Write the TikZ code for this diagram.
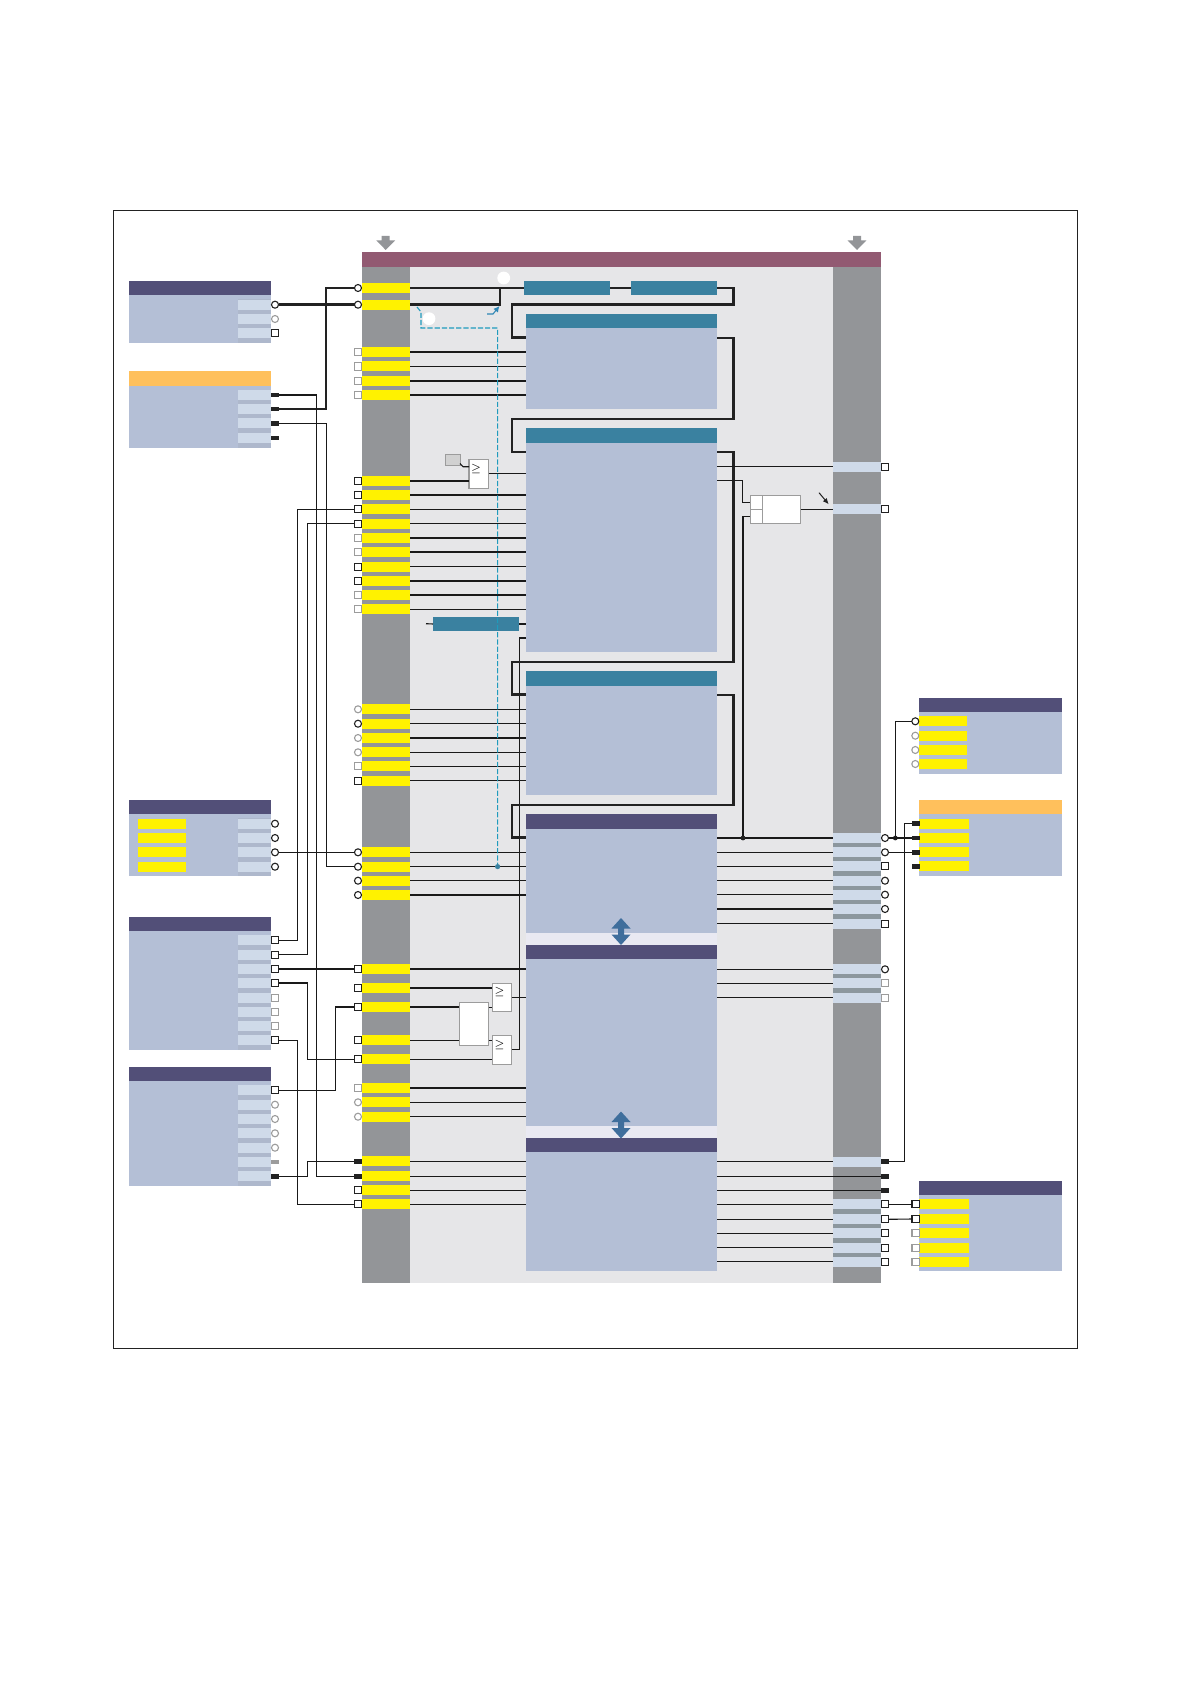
\documentclass[tikz,border=0pt]{standalone}
\usetikzlibrary{arrows.meta}
\definecolor{hdr}{HTML}{524F78}
\definecolor{teal}{HTML}{3A81A0}
\definecolor{maroon}{HTML}{925A72}
\definecolor{orangeh}{HTML}{FFC05C}
\definecolor{body}{HTML}{B4BFD6}
\definecolor{strip}{HTML}{AEB8CC}
\definecolor{portl}{HTML}{CFDAE9}
\definecolor{yel}{HTML}{FFF200}
\definecolor{inner}{HTML}{E6E6E8}
\definecolor{gapc}{HTML}{E9E9F2}
\definecolor{col}{HTML}{939598}
\definecolor{colstrip}{HTML}{8C979E}
\definecolor{mark}{HTML}{222222}
\definecolor{markg}{HTML}{9C9C9C}
\definecolor{dash}{HTML}{1F9BBD}
\definecolor{dbl}{HTML}{3F6E9C}
\definecolor{arrblue}{HTML}{2E86B5}
\newcommand\blockat[6]{%
  \pgfmathsetmacro\bkw{(#5-#3)*0.5}\pgfmathsetmacro\bkh{(#6-#4)*0.5}%
  \node[rectangle,inner sep=0pt,outer sep=0pt,#2,minimum width=\bkw pt,minimum height=\bkh pt,anchor=north west] (#1) at (#3,#4) {};}
\tikzset{
  sqk/.style={rectangle,draw=mark,fill=white,line width=.55pt,minimum size=3.6pt,inner sep=0pt,outer sep=0pt},
  sqg/.style={rectangle,draw=markg,fill=white,line width=.55pt,minimum size=3.6pt,inner sep=0pt,outer sep=0pt},
  cik/.style={circle,draw=mark,fill=white,line width=.55pt,minimum size=3.5pt,inner sep=0pt,outer sep=0pt},
  cig/.style={circle,draw=markg,fill=white,line width=.55pt,minimum size=3.5pt,inner sep=0pt,outer sep=0pt},
  blk/.style={rectangle,fill=mark,minimum width=3.9pt,minimum height=2.3pt,inner sep=0pt,outer sep=0pt},
  bkg/.style={rectangle,fill=markg,minimum width=3.9pt,minimum height=2.3pt,inner sep=0pt,outer sep=0pt},
  ybar/.style={rectangle,fill=yel,minimum width=24pt,minimum height=5pt,inner sep=0pt,outer sep=0pt},
  ybarw/.style={rectangle,fill=yel,minimum width=25pt,minimum height=5pt,inner sep=0pt,outer sep=0pt},
  lport/.style={rectangle,fill=portl,minimum width=16.5pt,minimum height=5pt,inner sep=0pt,outer sep=0pt},
  rband/.style={rectangle,fill=portl,minimum width=24pt,minimum height=5pt,inner sep=0pt,outer sep=0pt},
  wire/.style={draw=black!90,line width=.55pt},
  thickw/.style={draw=mark,line width=1.2pt,line join=miter},
  thickerw/.style={draw=mark,line width=1.45pt,line join=miter},
  gate/.style={fill=white,draw=markg,line width=.55pt},
  gesign/.style={inner sep=0pt,outer sep=0pt,font=\fontsize{5.5pt}{5.5pt}\selectfont},
  dotk/.style={circle,fill=mark,minimum size=2.4pt,inner sep=0pt,outer sep=0pt},
  dott/.style={circle,fill=teal,minimum size=2.6pt,inner sep=0pt,outer sep=0pt},
  whitec/.style={circle,fill=white,minimum size=6.4pt,inner sep=0pt,outer sep=0pt},
  dashw/.style={draw=dash,line width=.55pt,dash pattern=on 2.6pt off 1pt},
}
\begin{document}
\begin{tikzpicture}[x=0.5pt,y=-0.5pt]
\useasboundingbox (0,0) rectangle (1190,1684);
\fill[white] (0,0) rectangle (1190,1684);
\draw[draw=mark,line width=.45pt] (113.3,210.6) rectangle (1077.5,1348.5);

% main module
\blockat{innerbg}{fill=inner}{410}{267}{833}{1283}
\blockat{colL}{fill=col}{362}{267}{410}{1283}
\blockat{colR}{fill=col}{833}{267}{881}{1283}
\blockat{topbar}{fill=maroon}{362}{252}{881}{267}
\fill[col] (381.7,236) -- (389.7,236) -- (389.7,240.5) -- (395,240.5) -- (385.7,250) -- (376.4,240.5) -- (381.7,240.5) -- cycle;
\fill[col] (853,236) -- (861,236) -- (861,240.5) -- (866.3,240.5) -- (857,250) -- (847.7,240.5) -- (853,240.5) -- cycle;

% strips in right column
\blockat{rs1}{fill=colstrip}{833}{833}{881}{928}
\blockat{rs2}{fill=colstrip}{833}{965}{881}{1002}
\blockat{rs3}{fill=colstrip}{833}{1199}{881}{1267}

% centre blocks
\blockat{T1}{fill=teal}{524}{281}{610}{295}
\blockat{T2}{fill=teal}{631}{281}{717}{295}
\blockat{T3}{fill=teal}{433}{617}{519}{631}
\blockat{boxA}{fill=body}{526}{314}{717}{409}
\blockat{boxAh}{fill=teal}{526}{314}{717}{328}
\blockat{boxB}{fill=body}{526}{428}{717}{652}
\blockat{boxBh}{fill=teal}{526}{428}{717}{443}
\blockat{boxC}{fill=body}{526}{671}{717}{795}
\blockat{boxCh}{fill=teal}{526}{671}{717}{686}
\blockat{gapDE}{fill=gapc}{526}{932}{717}{945}
\blockat{gapEF}{fill=gapc}{526}{1126}{717}{1138}
\blockat{boxD}{fill=body}{526}{814}{717}{933}
\blockat{boxDh}{fill=hdr}{526}{814}{717}{829}
\blockat{boxE}{fill=body}{526}{945}{717}{1126}
\blockat{boxEh}{fill=hdr}{526}{945}{717}{959}
\blockat{boxF}{fill=body}{526}{1138}{717}{1271}
\blockat{boxFh}{fill=hdr}{526}{1138}{717}{1152}
\foreach \ys in {918,1111.5}{
  \fill[dbl,shift={(0,\ys-918)}] (621,918) -- (630.5,928.5) -- (624,928.5) -- (624,934.5) -- (630.5,934.5) -- (621,945) -- (611.5,934.5) -- (618,934.5) -- (618,928.5) -- (611.5,928.5) -- cycle;
}

% left external blocks
\blockat{LA}{fill=body}{129}{281}{271}{343}
\blockat{LAh}{fill=hdr}{129}{281}{271}{295}
\blockat{LAs}{fill=strip}{238}{299}{271}{343}
\blockat{LB}{fill=body}{129}{371}{271}{448}
\blockat{LBh}{fill=orangeh}{129}{371}{271}{386}
\blockat{LBs}{fill=strip}{238}{390}{271}{448}
\blockat{LC}{fill=body}{129}{800}{271}{876}
\blockat{LCh}{fill=hdr}{129}{800}{271}{814}
\blockat{LCs}{fill=strip}{238}{818}{271}{876}
\blockat{LD}{fill=body}{129}{917}{271}{1050}
\blockat{LDh}{fill=hdr}{129}{917}{271}{931}
\blockat{LDs}{fill=strip}{238}{935}{271}{1050}
\blockat{LE}{fill=body}{129}{1067}{271}{1186}
\blockat{LEh}{fill=hdr}{129}{1067}{271}{1081}
\blockat{LEs}{fill=strip}{238}{1085}{271}{1186}
\foreach \n/\y in {1/823.7,2/838,3/852.3,4/866.7}{\node[ybar] (LCy\n) at (162,\y) {};}
\foreach \n/\y/\m in {A1/304.7/cik,A2/319/cig,A3/333/sqk,
  B1/395/blk,B2/409/blk,B3/423.5/blk,B4/438/blk,
  C1/823.7/cik,C2/838/cik,C3/852.3/cik,C4/866.7/cik,
  D1/940.3/sqk,D2/954.7/sqk,D3/969/sqk,D4/983/sqk,D5/997.7/sqg,D6/1012/sqg,D7/1026/sqg,D8/1040.3/sqk,
  E1/1090.3/sqk,E2/1104.7/cig,E3/1119/cig,E4/1133.3/cig,E5/1147.7/cig,E6/1162/bkg,E7/1176.3/blk}{
  \node[lport] (Q\n) at (254.5,\y) {};
  \node[\m] (P\n) at (275,\y) {};
}

% right external blocks
\blockat{RF}{fill=body}{919}{698}{1062}{774}
\blockat{RFh}{fill=hdr}{919}{698}{1062}{712}
\blockat{RG}{fill=body}{919}{800}{1062}{876}
\blockat{RGh}{fill=orangeh}{919}{800}{1062}{814}
\blockat{RH}{fill=body}{919}{1181}{1062}{1271}
\blockat{RHh}{fill=hdr}{919}{1181}{1062}{1195}
\foreach \n/\y/\m in {S1/721.3/cik,S2/735.7/cig,S3/750/cig,S4/764/cig}{
  \node[ybar] (Z\n) at (943,\y) {};
  \node[\m] (P\n) at (915.3,\y) {};
}
\foreach \n/\y/\m in {T1/823.7/blk,T2/838/blk,T3/852.3/blk,T4/866.3/blk,
  U1/1204.3/sqk,U2/1219/sqk,U3/1233.3/sqg,U4/1247.7/sqg,U5/1261.7/sqg}{
  \node[ybarw] (Z\n) at (944,\y) {};
  \node[\m] (P\n) at (915.6,\y) {};
}

% left column pins
\foreach \n/\y/\m in {1/288/cik,2/304.7/cik,
  3/352/sqg,4/366.5/sqg,5/381/sqg,6/395/sqg,
  7/481/sqk,8/495/sqk,9/509.3/sqk,10/523.7/sqk,11/538/sqg,12/552/sqg,13/566.7/sqk,14/581/sqk,15/595/sqg,16/609.3/sqg,
  17/709.3/cig,18/723.7/cik,19/738/cig,20/752.3/cig,21/766.3/sqg,22/780.7/sqk,
  23/852.3/cik,24/866.7/cik,25/880.7/cik,26/895/cik,
  27/969/sqk,28/988/sqk,29/1007/sqk,30/1040.3/sqk,31/1059.3/sqk,
  32/1088/sqg,33/1102.3/cig,34/1116.7/cig,
  35/1161.3/blk,36/1176.3/blk,37/1190.3/sqk,38/1204.3/sqk}{
  \node[ybar] (Y\n) at (386,\y) {};
  \node[\m] (L\n) at (358,\y) {};
}

% right column ports
\foreach \n/\y/\m in {1/466.7/sqk,2/509.3/sqk,3/838/cik,4/852.3/cik,5/866.3/sqk,6/880.7/cik,7/894.7/cik,8/909/cik,9/923.7/sqk,
  10/969.3/cik,11/983.3/sqg,12/997.7/sqg,13/1161.7/blk,
  16/1204.3/sqk,17/1219.3/sqk,18/1233.3/sqk,19/1247.7/sqk,20/1261.7/sqk}{
  \node[rband] (W\n) at (857,\y) {};
  \node[\m] (R\n) at (885,\y) {};
}
\node[blk] (R14) at (885,1176.3) {};
\node[blk] (R15) at (885,1190.3) {};

% gates
\blockat{GG}{fill=black!18,draw=markg,line width=.4pt}{445}{454}{460}{465}
\blockat{GA}{gate}{469}{459.3}{488.7}{488.3}
\blockat{GB}{gate}{492.3}{983.3}{511.7}{1011.3}
\blockat{GC}{gate}{492.3}{1035.3}{511.7}{1064.3}
\blockat{MB}{gate}{459.3}{1002.3}{488.7}{1045.3}
\blockat{VF}{gate}{750.3}{495.3}{800.7}{523.3}
\node[gesign] (ge1) at (476,469) {$\geq$};
\node[gesign] (ge2) at (499.5,992) {$\geq$};
\node[gesign] (ge3) at (499.5,1045) {$\geq$};
\draw[draw=markg,line width=.55pt] (762.3,495.3) -- (762.3,523.3) (750.3,509.3) -- (762.3,509.3);

% white marks
\node[whitec] (wc1) at (503.7,278) {};
\node[whitec] (wc2) at (429,318.7) {};

% wires: left column to blocks
\foreach \n in {3,4,5,6}{\draw[wire] (Y\n.east) -- (Y\n.east -| boxA.west);}
\foreach \n in {8,9,10,11,12,13,14,15,16,17,18,19,20,21,22}{\draw[wire] (Y\n.east) -- (Y\n.east -| boxB.west);}
\foreach \n in {23,24,25,26,27,32,33,34,35,36,37,38}{\draw[wire] (Y\n.east) -- (Y\n.east -| boxB.west);}
\draw[wire] (Y7.east) -- (Y7.east -| GA.west);
\draw[wire] (GA.east |- 0,473.3) -- (boxB.west |- 0,473.3);
\draw[wire] (GG.east |- 0,463.5) -- (463,466.7) -- (GA.west |- 0,466.7);
\draw[wire] (Y28.east) -- (Y28.east -| GB.west);
\draw[wire] (Y29.east) -- (Y29.east -| MB.west);
\draw[wire] (Y30.east) -- (Y30.east -| MB.west);
\draw[wire] (Y31.east) -- (Y31.east -| GC.west);
\draw[wire] (MB.east |- 0,1007.3) -- (GB.west |- 0,1007.3);
\draw[wire] (MB.east |- 0,1040.3) -- (GC.west |- 0,1040.3);
\draw[wire] (GB.east |- 0,997.3) -- (boxE.west |- 0,997.3);
\draw[wire] (boxB.west |- 0,638) -- (519.7,638) -- (519.7,1049.3) -- (GC.east |- 0,1049.3);
\coordinate (t3in) at (426,623.7);
\draw[wire] (t3in) -- (T3.west);
\draw[wire] (T3.east) -- (T3.east -| boxB.west);

% thick chain
\coordinate (busT) at (326,350);
\coordinate (kn) at (500,288);
\draw[thickerw] (PA1.east) -- (L2.west);
\draw[thickw] (PB2.east) -| (busT) |- (L1.west);
\draw[thickw] (Y1.east) -- (T1.west);
\draw[thickerw] (Y2.east) -| (kn);
\draw[thickw] (T1.east) -- (T2.west);
\draw[thickw] (T2.east) -- (733.4,288) -- (733.4,304.7) -- (512,304.7) -- (512,337.7) -- (boxA.west |- 0,337.7);
\draw[thickw] (boxA.east |- 0,338) -- (733.4,338) -- (733.4,419) -- (512,419) -- (512,451.7) -- (boxB.west |- 0,451.7);
\draw[thickw] (boxB.east |- 0,451.7) -- (733.4,451.7) -- (733.4,662) -- (512,662) -- (512,694.5) -- (boxC.west |- 0,694.5);
\draw[thickw] (boxC.east |- 0,695) -- (733.4,695) -- (733.4,805) -- (512,805) -- (512,837.3) -- (boxD.west |- 0,837.3);

% left outer wires
\coordinate (busA) at (316.7,800);
\coordinate (busB) at (326.7,600);
\coordinate (busC) at (297.7,800);
\coordinate (busD) at (307.7,800);
\coordinate (busC2) at (297.7,1100);
\coordinate (busD2) at (307.7,1020);
\coordinate (busD3) at (307.7,1170);
\coordinate (busE) at (335.7,1050);
\draw[wire] (PB1.east) -| (busA) |- (L36.west);
\draw[wire] (PB3.east) -| (busB) |- (L24.west);
\draw[wire] (L9.west) -| (busC) |- (PD1.east);
\draw[wire] (L10.west) -| (busD) |- (PD2.east);
\draw[wire] (PC3.east) -- (L23.west);
\draw[wire] (PD3.east) -- (L27.west);
\draw[wire] (PD4.east) -| (busD2) |- (L31.west);
\draw[wire] (PD8.east) -| (busC2) |- (L38.west);
\draw[wire] (PE1.east) -| (busE) |- (L29.west);
\draw[wire] (PE7.east) -| (busD3) |- (L35.west);

% right side wires
\foreach \n/\b in {3/D,4/D,5/D,6/D,7/D,8/D,9/D,10/E,11/E,12/E,13/F,16/F,17/F,18/F,19/F,20/F}{
  \draw[wire] (W\n.west -| box\b.east) -- (W\n.west);
}
\draw[wire] (R14.west -| boxF.east) -- (R14.west);
\draw[wire] (R15.west -| boxF.east) -- (R15.west);
\draw[wire] (W1.west -| boxB.east) -- (W1.west);
\draw[wire] (VF.east |- W2.west) -- (W2.west);
\node[dotk] (J2) at (743,838) {};
\draw[wire] (boxB.east |- 0,480.3) -| (742.6,502.3) -- (VF.west |- 0,502.3);
\draw[wire] (J2) |- (VF.west |- 0,516.3);
\coordinate (ar1) at (819,492.7);
\coordinate (ar2) at (828.7,504.3);
\draw[draw=mark,line width=.5pt,-{Latex[length=3pt,width=2.6pt]}] (ar1) -- (ar2);

\node[dotk] (J1) at (895.3,838) {};
\coordinate (busR) at (904.7,1000);
\draw[wire] (R3.east) -- (PT2.west);
\draw[wire] (R4.east) -- (PT3.west);
\draw[wire] (J1) |- (PS1.west);
\draw[wire] (PT1.west) -| (busR) |- (R13.east);
\draw[wire] (R16.east) -- (PU1.west);
\draw[wire] (R17.east) -- (PU2.west);

% dashed teal line and small arrow
\node[dott] (dotd) at (497.6,866.6) {};
\draw[dashw] (417,307) -- (421,312) -- (421,328) -- (497.6,328) -- (dotd);
\coordinate (ab1) at (487,314);
\coordinate (ab2) at (493,314);
\coordinate (ab3) at (499.5,306);
\draw[draw=arrblue,line width=.55pt,-{Latex[length=3pt,width=3pt]}] (ab1) -- (ab2) -- (ab3);
\end{tikzpicture}
\end{document}
